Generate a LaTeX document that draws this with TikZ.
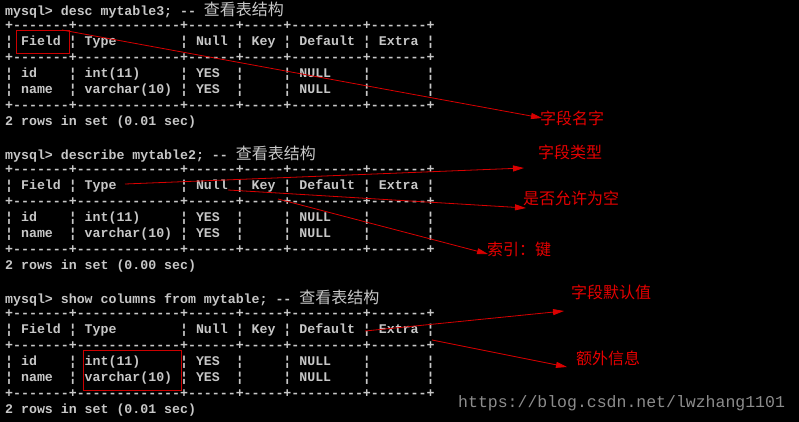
\documentclass[tikz,border=0pt]{standalone}
\usepackage{fontspec}
\setmonofont{Liberation Mono}
\newfontfamily\cjk{Noto Sans CJK SC}
\usetikzlibrary{arrows.meta}
\begin{document}
\begin{tikzpicture}[x=1pt,y=-1pt,
  term/.style={anchor=west,inner sep=0pt,text=black!22,font=\fontsize{13.25}{16}\ttfamily\bfseries},
  note/.style={anchor=west,inner sep=0pt,text=red!90!black,font=\fontsize{16}{18}\cjk},
  arr/.style={draw=red!85!black,line width=0.8pt,-{Triangle[length=11pt,width=6pt]}}]
\fill[black] (0,0) rectangle (799,422);
\useasboundingbox (0,0) rectangle (799,422);
\def\B{\char"00A6}
\foreach \blk/\off/\cmd/\tm in {a/0/{desc mytable3;}/0.01, b/9/{describe mytable2;}/0.00, c/18/{show columns from mytable;}/0.01}{
  \node[term] (\blk0) at (5,{10+16*\off}) {mysql> \cmd\ -- {\mdseries\fontsize{16}{16}\cjk 查看表结构}};
  \node[term] (\blk1) at (5,{10+16*(\off+1)}) {+-------+-------------+------+-----+---------+-------+};
  \node[term] (\blk2) at (5,{10+16*(\off+2)}) {\B{} Field \B{} Type\ \ \ \ \ \ \ \ \B{} Null \B{} Key \B{} Default \B{} Extra \B};
  \node[term] (\blk3) at (5,{10+16*(\off+3)}) {+-------+-------------+------+-----+---------+-------+};
  \node[term] (\blk4) at (5,{10+16*(\off+4)}) {\B{} id\ \ \ \ \B{} int(11)\ \ \ \ \ \B{} YES\ \ \B{}\ \ \ \ \ \B{} NULL\ \ \ \ \B{}\ \ \ \ \ \ \ \B};
  \node[term] (\blk5) at (5,{10+16*(\off+5)}) {\B{} name\ \ \B{} varchar(10) \B{} YES\ \ \B{}\ \ \ \ \ \B{} NULL\ \ \ \ \B{}\ \ \ \ \ \ \ \B};
  \node[term] (\blk6) at (5,{10+16*(\off+6)}) {+-------+-------------+------+-----+---------+-------+};
  \node[term] (\blk7) at (5,{10+16*(\off+7)}) {2 rows in set (\tm\ sec)};
}
\node[draw=red!80!black,line width=0.9pt,minimum width=53pt,minimum height=23pt,inner sep=0pt] (box1) at (42.5,41.5) {};
\node[draw=red!80!black,line width=0.9pt,minimum width=98pt,minimum height=40pt,inner sep=0pt] (box2) at (132.5,370) {};
\node[note] (n1) at (540,118) {字段名字};
\node[note] (n2) at (538,152) {字段类型};
\node[note] (n3) at (523,198) {是否允许为空};
\node[note] (n4) at (487,249) {索引：键};
\node[note] (n5) at (571,292) {字段默认值};
\node[note] (n6) at (576,358) {额外信息};
\coordinate (s1) at (62,30); \coordinate (e1) at (542,118);
\coordinate (s2) at (125,184); \coordinate (e2) at (524,168);
\coordinate (s3) at (228,190); \coordinate (e3) at (526,208);
\coordinate (s4) at (278,199); \coordinate (e4) at (488,254);
\coordinate (s5) at (365,331); \coordinate (e5) at (564,311);
\coordinate (s6) at (432,340); \coordinate (e6) at (567,367);
\foreach \i in {1,...,6} \draw[arr] (s\i) -- (e\i);
\node[anchor=west,inner sep=0pt,text=black!45,font=\fontsize{16.5}{18}\ttfamily] (wm) at (458,403) {https://blog.csdn.net/lwzhang1101};
\end{tikzpicture}
\end{document}
